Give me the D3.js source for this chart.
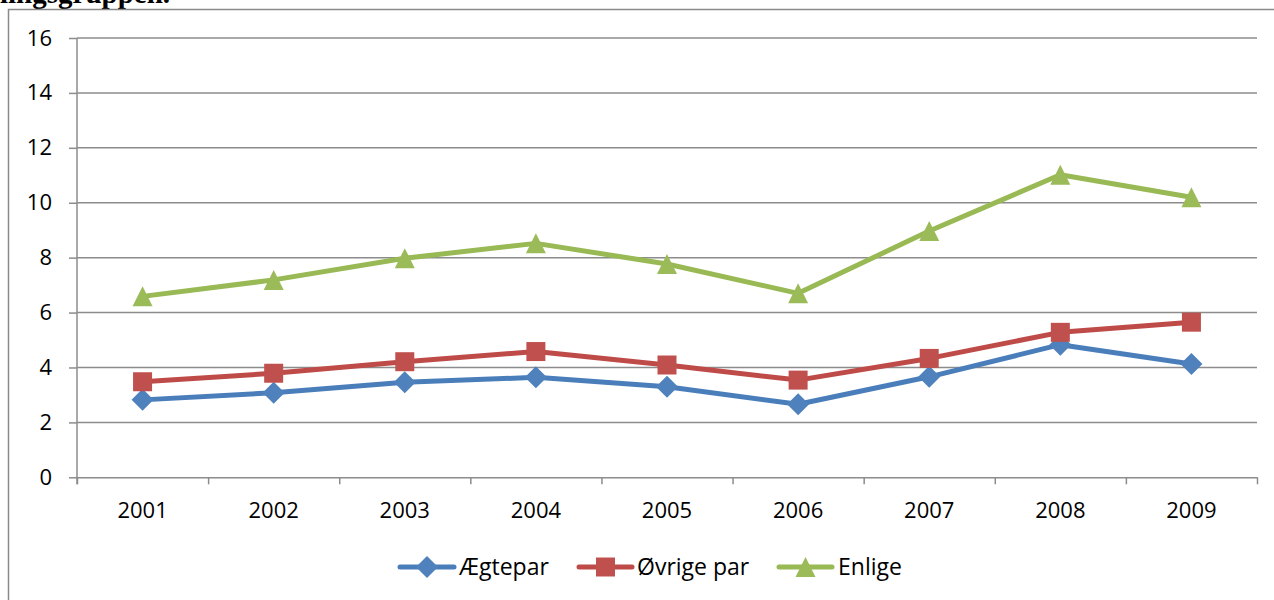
<!DOCTYPE html>
<html>
<head>
<meta charset="utf-8">
<script src="https://cdn.jsdelivr.net/npm/d3@7"></script>
<style>
  html, body { margin: 0; padding: 0; background: #fff; }
  svg { display: block; }
  .tick text { font-family: "Open Sans", "Noto Sans", sans-serif; font-size: 22px; fill: #000; }
</style>
</head>
<body>
<svg id="chart" width="1274" height="600"></svg>
<script>
// Years on the category axis
const years = ["2001", "2002", "2003", "2004", "2005", "2006", "2007", "2008", "2009"];

// Series values per year
const aegtepar   = [2.82, 3.08, 3.46, 3.64, 3.30, 2.66, 3.66, 4.83, 4.13];
const oevrigePar = [3.48, 3.79, 4.21, 4.58, 4.09, 3.54, 4.33, 5.28, 5.65];
const enlige     = [6.59, 7.19, 7.98, 8.52, 7.77, 6.70, 8.97, 11.02, 10.20];

// Value axis ticks
const yTicks = [0, 2, 4, 6, 8, 10, 12, 14, 16];

const seriesNames = ["Ægtepar", "Øvrige par", "Enlige"];

const series = [
  { name: seriesNames[0], values: aegtepar,   line: "#4A7EBB", fill: "#4F81BD", marker: "diamond" },
  { name: seriesNames[1], values: oevrigePar, line: "#BE4B48", fill: "#C0504D", marker: "square" },
  { name: seriesNames[2], values: enlige,     line: "#98B954", fill: "#9BBB59", marker: "triangle" }
];

const svg = d3.select("#chart");
const plot = { left: 77, right: 1257, top: 38, bottom: 477.3 };
const gridColor = "#8c8c8c";

// Heading text cut off at the top of the page
svg.append("text")
  .attr("x", 0).attr("y", 3)
  .attr("font-family", "Liberation Serif, serif")
  .attr("font-weight", "bold")
  .attr("font-size", 29)
  .attr("fill", "#000")
  .text("lingsgruppen.");

// Chart frame
svg.append("rect")
  .attr("x", 8.5).attr("y", 9.5)
  .attr("width", 1300).attr("height", 700)
  .attr("fill", "none")
  .attr("stroke", "#8a8a8a")
  .attr("stroke-width", 1.5);

const x = d3.scaleBand().domain(years).range([plot.left, plot.right]).padding(0);
const xEdge = d3.scaleLinear().domain([0, years.length]).range([plot.left, plot.right]);
const y = d3.scaleLinear().domain([0, 16]).range([plot.bottom, plot.top]);

// Horizontal gridlines
svg.append("g")
  .selectAll("line")
  .data(yTicks.filter(d => d > 0))
  .join("line")
  .attr("x1", plot.left).attr("x2", plot.right)
  .attr("y1", d => y(d)).attr("y2", d => y(d))
  .attr("stroke", gridColor)
  .attr("stroke-width", 1.5);

// Value axis
const yAxis = svg.append("g")
  .attr("transform", `translate(${plot.left},0)`)
  .call(d3.axisLeft(y).tickValues(yTicks).tickSize(8).tickPadding(17).tickSizeOuter(0));
yAxis.select(".domain").remove();
yAxis.selectAll(".tick line").attr("stroke", gridColor).attr("stroke-width", 1.5);
svg.append("line")
  .attr("x1", plot.left).attr("x2", plot.left)
  .attr("y1", plot.top).attr("y2", plot.bottom + 7)
  .attr("stroke", gridColor).attr("stroke-width", 1.5);

// Category axis: tick marks on category boundaries
const xTicks = svg.append("g")
  .attr("transform", `translate(0,${plot.bottom})`)
  .call(d3.axisBottom(xEdge).tickValues(d3.range(years.length + 1)).tickFormat("").tickSize(7).tickSizeOuter(0));
xTicks.select(".domain").attr("stroke", gridColor).attr("stroke-width", 1.5);
xTicks.selectAll(".tick line").attr("stroke", gridColor).attr("stroke-width", 1.5);

// Category labels centred in each band
const xLabels = svg.append("g")
  .attr("transform", `translate(0,${plot.bottom})`)
  .call(d3.axisBottom(x).tickSize(0).tickPadding(25));
xLabels.select(".domain").remove();

// Marker shapes
const markerTypes = {
  diamond: {
    draw(ctx, size) {
      const r = Math.sqrt(size) / 2;
      ctx.moveTo(0, -r); ctx.lineTo(r, 0); ctx.lineTo(0, r); ctx.lineTo(-r, 0); ctx.closePath();
    }
  },
  square: {
    draw(ctx, size) {
      const r = Math.sqrt(size) / 2;
      ctx.rect(-r, -r, 2 * r, 2 * r);
    }
  },
  triangle: {
    draw(ctx, size) {
      const r = Math.sqrt(size) / 2;
      ctx.moveTo(0, -r); ctx.lineTo(r, r); ctx.lineTo(-r, r); ctx.closePath();
    }
  }
};
const markerSize = { diamond: 22 * 22, square: 19 * 19, triangle: 20 * 20 };

const line = d3.line()
  .x((d, i) => x(years[i]) + x.bandwidth() / 2)
  .y(d => y(d));

series.forEach(s => {
  const g = svg.append("g");
  g.append("path")
    .datum(s.values)
    .attr("d", line)
    .attr("fill", "none")
    .attr("stroke", s.line)
    .attr("stroke-width", 5)
    .attr("stroke-linejoin", "round")
    .attr("stroke-linecap", "round");
  g.selectAll("path.marker")
    .data(s.values)
    .join("path")
    .attr("class", "marker")
    .attr("transform", (d, i) => `translate(${x(years[i]) + x.bandwidth() / 2},${y(d)})`)
    .attr("d", d3.symbol(markerTypes[s.marker], markerSize[s.marker]))
    .attr("fill", s.fill);
});

// Legend
const legendItems = [
  { x0: 400, x1: 454, tx: 459 },
  { x0: 579, x1: 632, tx: 637 },
  { x0: 779, x1: 832, tx: 838 }
];
const legendY = 567;
const legend = svg.append("g");
series.forEach((s, i) => {
  const it = legendItems[i];
  legend.append("line")
    .attr("x1", it.x0).attr("x2", it.x1)
    .attr("y1", legendY).attr("y2", legendY)
    .attr("stroke", s.line).attr("stroke-width", 5).attr("stroke-linecap", "round");
  legend.append("path")
    .attr("transform", `translate(${(it.x0 + it.x1) / 2},${legendY})`)
    .attr("d", d3.symbol(markerTypes[s.marker], markerSize[s.marker]))
    .attr("fill", s.fill);
  legend.append("text")
    .attr("x", it.tx).attr("y", legendY + 8)
    .attr("font-family", "Open Sans, Noto Sans, sans-serif")
    .attr("font-size", 23)
    .attr("fill", "#000")
    .text(s.name);
});
</script>
</body>
</html>
